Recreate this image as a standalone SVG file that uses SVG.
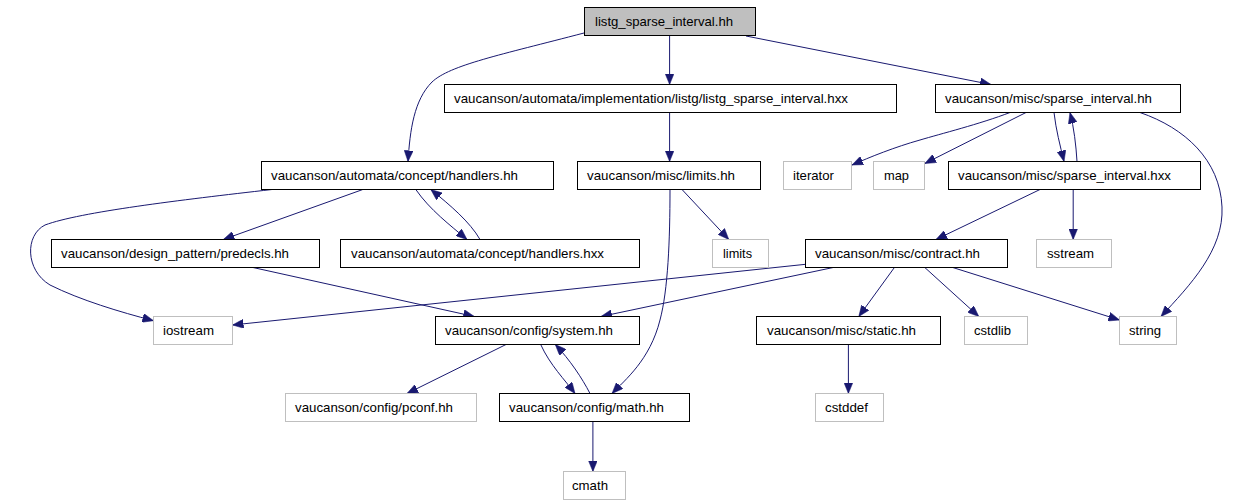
<svg xmlns="http://www.w3.org/2000/svg" width="1247" height="504" viewBox="0 0 1247 504">
<defs>
<style>
.n rect{fill:#fff;stroke:#000;stroke-width:1}
.g rect{fill:#fff;stroke:#bfbfbf;stroke-width:1}
.r rect{fill:#bfbfbf;stroke:#000;stroke-width:1}
text{font-family:"Liberation Sans",Arial,Helvetica,sans-serif;font-size:13px;fill:#000}
#edges path{fill:none;stroke:#191970;stroke-width:1;marker-end:url(#ah)}
</style>
<marker id="ah" markerUnits="userSpaceOnUse" markerWidth="11" markerHeight="9" refX="11" refY="4.5" orient="auto" viewBox="0 0 11 9">
<path d="M0,0 L11,4.5 L0,9 z" fill="#191970" stroke="#191970" stroke-width="0.5"/>
</marker>
</defs>
<rect width="1247" height="504" fill="#fff"/>
<g id="edges">
<path d="M584,33 C500,55 450,65 432,82 C414,100 410,130 408,161.5"/>
<path d="M669.6,35.5 L669.6,84.5"/>
<path d="M746,36 L991,84.5"/>
<path d="M669.6,112.5 L669.6,161.5"/>
<path d="M1010,112.5 C980,124 940,134 920,140 C895,147 870,157 852,165"/>
<path d="M1026,112.5 L924.8,163.5"/>
<path d="M1054,112.5 C1056,130 1060,145 1064,161.5"/>
<path d="M1077,161.5 C1076,145 1074,128 1070,112.5"/>
<path d="M1140,112.5 C1185,128 1220,160 1222,207 C1224,250 1190,285 1161,316.5"/>
<path d="M272,189.5 C180,200 80,212 45,225 C25,235 25,270 50,285 C80,300 120,312 153.5,320.7"/>
<path d="M362.8,189.5 L223.3,239.5"/>
<path d="M415.8,189.5 C430,210 450,225 467,239.5"/>
<path d="M480,239.5 C470,222 450,205 430.8,189.5"/>
<path d="M682,189.5 L728.8,239.5"/>
<path d="M670,189.5 C670,240 668,290 660,320 C650,360 625,380 612,393.5"/>
<path d="M253,267.5 L474.3,316.5"/>
<path d="M1040,189.5 L936,239.5"/>
<path d="M1073.2,189.5 L1073.2,239.5"/>
<path d="M805.5,264.3 L232.5,325"/>
<path d="M833.2,267.5 L601,316.5"/>
<path d="M894.4,267.5 L858.8,316.5"/>
<path d="M924.8,267.5 L978.8,316.5"/>
<path d="M952.8,267.5 L1119.5,320"/>
<path d="M506,344.5 L407,393.5"/>
<path d="M540.7,344.5 C550,365 565,380 575,393.5"/>
<path d="M590,393.5 C582,378 570,360 555.3,344.5"/>
<path d="M848.4,344.5 L848.4,393.5"/>
<path d="M592.9,421.5 L592.9,471.5"/>
</g>
<g id="listg_sparse_interval_hh" class="r"><rect x="584.5" y="7.5" width="171" height="28"/><text x="595" y="25.5" textLength="138" lengthAdjust="spacingAndGlyphs">listg_sparse_interval.hh</text></g>
<g id="listg_sparse_interval_hxx" class="n"><rect x="444.5" y="84.5" width="452" height="28"/><text x="454" y="102.5" textLength="394" lengthAdjust="spacingAndGlyphs">vaucanson/automata/implementation/listg/listg_sparse_interval.hxx</text></g>
<g id="sparse_interval_hh" class="n"><rect x="935.5" y="84.5" width="245" height="28"/><text x="945" y="102.5" textLength="207" lengthAdjust="spacingAndGlyphs">vaucanson/misc/sparse_interval.hh</text></g>
<g id="handlers_hh" class="n"><rect x="261.5" y="161.5" width="292" height="28"/><text x="271" y="179.5" textLength="247" lengthAdjust="spacingAndGlyphs">vaucanson/automata/concept/handlers.hh</text></g>
<g id="limits_hh" class="n"><rect x="577.5" y="161.5" width="183" height="28"/><text x="587" y="179.5" textLength="148" lengthAdjust="spacingAndGlyphs">vaucanson/misc/limits.hh</text></g>
<g id="iterator" class="g"><rect x="783.5" y="161.5" width="68" height="28"/><text x="793" y="179.5" textLength="41" lengthAdjust="spacingAndGlyphs">iterator</text></g>
<g id="map" class="g"><rect x="873.5" y="161.5" width="51" height="28"/><text x="884" y="179.5" textLength="25" lengthAdjust="spacingAndGlyphs">map</text></g>
<g id="sparse_interval_hxx" class="n"><rect x="948.5" y="161.5" width="252" height="28"/><text x="958" y="179.5" textLength="213" lengthAdjust="spacingAndGlyphs">vaucanson/misc/sparse_interval.hxx</text></g>
<g id="predecls_hh" class="n"><rect x="51.5" y="239.5" width="268" height="28"/><text x="61" y="257.5" textLength="228" lengthAdjust="spacingAndGlyphs">vaucanson/design_pattern/predecls.hh</text></g>
<g id="handlers_hxx" class="n"><rect x="340.5" y="239.5" width="299" height="28"/><text x="351" y="257.5" textLength="253" lengthAdjust="spacingAndGlyphs">vaucanson/automata/concept/handlers.hxx</text></g>
<g id="limits" class="g"><rect x="712.5" y="239.5" width="56" height="28"/><text x="723" y="257.5" textLength="29" lengthAdjust="spacingAndGlyphs">limits</text></g>
<g id="contract_hh" class="n"><rect x="805.5" y="239.5" width="202" height="28"/><text x="815" y="257.5" textLength="165" lengthAdjust="spacingAndGlyphs">vaucanson/misc/contract.hh</text></g>
<g id="sstream" class="g"><rect x="1036.5" y="239.5" width="75" height="28"/><text x="1047" y="257.5" textLength="47" lengthAdjust="spacingAndGlyphs">sstream</text></g>
<g id="iostream" class="g"><rect x="153.5" y="316.5" width="79" height="28"/><text x="163" y="334.5" textLength="51" lengthAdjust="spacingAndGlyphs">iostream</text></g>
<g id="system_hh" class="n"><rect x="435.5" y="316.5" width="204" height="28"/><text x="445" y="334.5" textLength="168" lengthAdjust="spacingAndGlyphs">vaucanson/config/system.hh</text></g>
<g id="static_hh" class="n"><rect x="756.5" y="316.5" width="184" height="28"/><text x="767" y="334.5" textLength="149" lengthAdjust="spacingAndGlyphs">vaucanson/misc/static.hh</text></g>
<g id="cstdlib" class="g"><rect x="964.5" y="316.5" width="63" height="28"/><text x="974" y="334.5" textLength="37" lengthAdjust="spacingAndGlyphs">cstdlib</text></g>
<g id="string" class="g"><rect x="1119.5" y="316.5" width="57" height="28"/><text x="1129" y="334.5" textLength="32" lengthAdjust="spacingAndGlyphs">string</text></g>
<g id="pconf_hh" class="g"><rect x="285.5" y="393.5" width="191" height="28"/><text x="295" y="411.5" textLength="158" lengthAdjust="spacingAndGlyphs">vaucanson/config/pconf.hh</text></g>
<g id="math_hh" class="n"><rect x="499.5" y="393.5" width="190" height="28"/><text x="509" y="411.5" textLength="155" lengthAdjust="spacingAndGlyphs">vaucanson/config/math.hh</text></g>
<g id="cstddef" class="g"><rect x="815.5" y="393.5" width="68" height="28"/><text x="825" y="411.5" textLength="43" lengthAdjust="spacingAndGlyphs">cstddef</text></g>
<g id="cmath" class="g"><rect x="563.5" y="471.5" width="62" height="28"/><text x="572" y="489.5" textLength="36" lengthAdjust="spacingAndGlyphs">cmath</text></g>
</svg>
